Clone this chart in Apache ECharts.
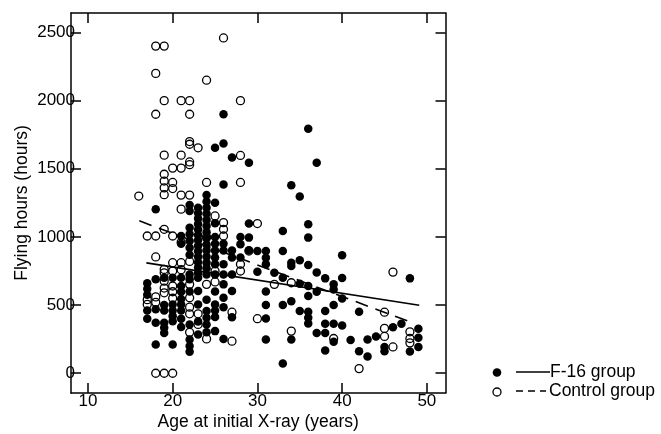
<!DOCTYPE html>
<html><head><meta charset="utf-8">
<script src="https://cdn.jsdelivr.net/npm/echarts@6/dist/echarts.min.js"></script>
<style>html,body{margin:0;padding:0;background:#fff}#c{width:661px;height:434px}</style>
</head><body><div id="c"></div>
<script>
const xTicks = [10, 20, 30, 40, 50];
const yTicks = [0, 500, 1000, 1500, 2000, 2500];

// F-16 group (filled circles): [age, flying hours]
const f16Points = [
  [17,660],[17,620],[17,575],[17,460],[17,400],
  [18,1204],[18,690],[18,470],[18,370],[18,211],
  [19,700],[19,500],[19,460],[19,370],[19,333],[19,296],
  [20,700],[20,505],[20,461],[20,419],[20,382],[20,211],
  [21,1007],[21,950],[21,700],[21,640],[21,598],[21,545],[21,505],[21,461],[21,400],[21,340],
  [22,1235],[22,1191],[22,1068],[22,1020],[22,970],[22,920],[22,870],[22,725],[22,690],[22,600],[22,358],[22,248],[22,199],[22,157],
  [23,1215],[23,1175],[23,1135],[23,1095],[23,1055],[23,1015],[23,975],[23,935],[23,895],[23,855],[23,815],[23,775],[23,735],[23,700],[23,603],[23,505],[23,380],[23,285],
  [24,1307],[24,1260],[24,1215],[24,1170],[24,1125],[24,1080],[24,1035],[24,990],[24,945],[24,900],[24,855],[24,810],[24,770],[24,725],[24,540],[24,456],[24,407],[24,358],[24,300],
  [25,1654],[25,1250],[25,1100],[25,1000],[25,950],[25,900],[25,850],[25,800],[25,725],[25,600],[25,505],[25,461],[25,412],[25,309],
  [26,1900],[26,1686],[26,1385],[26,950],[26,900],[26,800],[26,725],[26,652],[26,554],[26,485],[26,252],
  [27,1583],[27,900],[27,850],[27,725],[27,603],[27,410],
  [28,1000],[28,946],[28,850],
  [29,1544],[29,1098],[29,995],[29,902],
  [30,897],[30,745],
  [31,897],[31,848],[31,799],[31,600],[31,500],[31,402],[31,248],
  [32,737],
  [33,1044],[33,897],[33,700],[33,500],[33,71],
  [34,1380],[34,811],[34,787],[34,529],[34,248],
  [35,1297],[35,829],[35,657],[35,456],
  [36,1794],[36,1093],[36,995],[36,794],[36,640],[36,566],[36,451],[36,407],[36,365],
  [37,1544],[37,740],[37,598],[37,296],
  [38,696],[38,456],[38,363],[38,296],[38,167],
  [39,652],[39,615],[39,500],[39,363],[39,231],
  [40,865],[40,699],[40,549],[40,351],
  [41,243],
  [42,451],[42,162],
  [43,248],[43,122],
  [44,270],
  [45,193],[45,162],
  [46,338],
  [47,363],
  [48,696],[48,160],
  [49,326],[49,260],[49,193]
];

// Control group (open circles): [age, flying hours]
const controlPoints = [
  [16,1300],
  [17,1007],[17,540],[17,505],
  [18,2400],[18,2200],[18,1900],[18,1007],[18,853],[18,560],[18,520],[18,0],
  [19,2400],[19,2000],[19,1600],[19,1460],[19,1410],[19,1360],[19,1310],[19,1056],[19,762],[19,737],[19,676],[19,625],[19,590],[19,0],
  [20,1505],[20,1400],[20,1355],[20,1007],[20,811],[20,750],[20,640],[20,598],[20,550],[20,0],
  [21,2000],[21,1600],[21,1505],[21,1307],[21,1204],[21,960],[21,811],[21,760],
  [22,2000],[22,1900],[22,1700],[22,1680],[22,1550],[22,1530],[22,1307],[22,820],[22,652],[22,554],[22,485],[22,436],[22,300],
  [23,1654],[23,436],[23,358],
  [24,2150],[24,1400],[24,1000],[24,652],[24,252],
  [25,1154],[25,750],[25,670],
  [26,2460],[26,1105],[26,1056],[26,1007],
  [27,448],[27,235],
  [28,2000],[28,1598],[28,1400],[28,799],[28,750],
  [29,897],
  [30,1098],[30,400],
  [32,652],
  [34,664],[34,309],
  [39,255],
  [42,34],
  [45,448],[45,329],[45,270],
  [46,742],[46,193],
  [48,304],[48,255],[48,223]
];

// Regression lines (end points)
const f16Fit = [[16.9, 810], [49.1, 499]];
const controlFit = [[16.06, 1118], [48.0, 377]];

const FONT = 'Liberation Sans, Arial, Helvetica, sans-serif';
const chart = echarts.init(document.getElementById('c'), null, {renderer: 'canvas'});

const axisLine = {show: true, onZero: false, lineStyle: {color: '#000', width: 1.5}};

chart.setOption({
  animation: false,
  backgroundColor: '#fff',
  textStyle: {fontFamily: FONT, color: '#000'},
  grid: {left: 71, top: 13, width: 374.5, height: 380, containLabel: false, outerBoundsMode: 'none'},
  xAxis: [{
    type: 'value', min: 8, max: 52.2, position: 'bottom',
    axisLine: axisLine,
    axisTick: {show: true, inside: true, length: 10, customValues: xTicks, lineStyle: {color: '#000', width: 1.5}},
    axisLabel: {customValues: xTicks, fontSize: 17, color: '#000', margin: 0, fontFamily: FONT, formatter: v => String(v)},
    splitLine: {show: false},
    name: 'Age at initial X-ray (years)', nameLocation: 'middle', nameGap: 20, nameMoveOverlap: false,
    nameTextStyle: {fontSize: 17.5, color: '#000', fontFamily: FONT}
  }, {
    type: 'value', min: 8, max: 52.2, position: 'top',
    axisLine: axisLine,
    axisTick: {show: true, inside: true, length: 10, customValues: xTicks, lineStyle: {color: '#000', width: 1.5}},
    axisLabel: {show: false}, splitLine: {show: false}
  }],
  yAxis: [{
    type: 'value', min: -145, max: 2643, position: 'left',
    axisLine: axisLine,
    axisTick: {show: true, inside: true, length: 10, customValues: yTicks, lineStyle: {color: '#000', width: 1.5}},
    axisLabel: {customValues: yTicks, fontSize: 17, color: '#000', margin: -4, fontFamily: FONT, formatter: v => String(v)},
    splitLine: {show: false},
    name: 'Flying hours (hours)', nameLocation: 'middle', nameGap: 40, nameRotate: 90, nameMoveOverlap: false,
    nameTextStyle: {fontSize: 17.5, color: '#000', fontFamily: FONT}
  }, {
    type: 'value', min: -145, max: 2643, position: 'right',
    axisLine: axisLine,
    axisTick: {show: true, inside: true, length: 10, customValues: yTicks, lineStyle: {color: '#000', width: 1.5}},
    axisLabel: {show: false}, splitLine: {show: false}
  }],
  series: [{
    name: 'F-16 group', type: 'scatter', data: f16Points,
    symbol: 'circle', symbolSize: 8.5,
    itemStyle: {color: '#000', opacity: 1}, z: 3
  }, {
    name: 'Control group', type: 'scatter', data: controlPoints,
    symbol: 'circle', symbolSize: 8,
    itemStyle: {color: 'rgba(255,255,255,0)', borderColor: '#000', borderWidth: 1.3, opacity: 1}, z: 4
  }, {
    name: 'F-16 fit', type: 'line', data: f16Fit, showSymbol: false, symbol: 'none',
    lineStyle: {color: '#000', width: 1.6, type: 'solid'}, z: 5
  }, {
    name: 'Control fit', type: 'line', data: controlFit, showSymbol: false, symbol: 'none',
    lineStyle: {color: '#000', width: 1.6, type: [13, 8]}, z: 5
  }],
  graphic: [
    {type: 'circle', shape: {cx: 497, cy: 372.5, r: 4.3}, style: {fill: '#000'}},
    {type: 'line', shape: {x1: 516, y1: 372, x2: 550, y2: 372}, style: {stroke: '#000', lineWidth: 1.6}},
    {type: 'text', x: 550, y: 372, style: {text: 'F-16 group', font: '17.5px ' + FONT, fill: '#000', textVerticalAlign: 'middle', verticalAlign: 'middle'}},
    {type: 'circle', shape: {cx: 497, cy: 392, r: 4}, style: {fill: 'none', stroke: '#000', lineWidth: 1.3}},
    {type: 'line', shape: {x1: 516, y1: 391, x2: 546, y2: 391}, style: {stroke: '#000', lineWidth: 1.6, lineDash: [7, 5]}},
    {type: 'text', x: 549, y: 391, style: {text: 'Control group', font: '17.5px ' + FONT, fill: '#000', textVerticalAlign: 'middle', verticalAlign: 'middle'}}
  ]
});
</script>
</body></html>
